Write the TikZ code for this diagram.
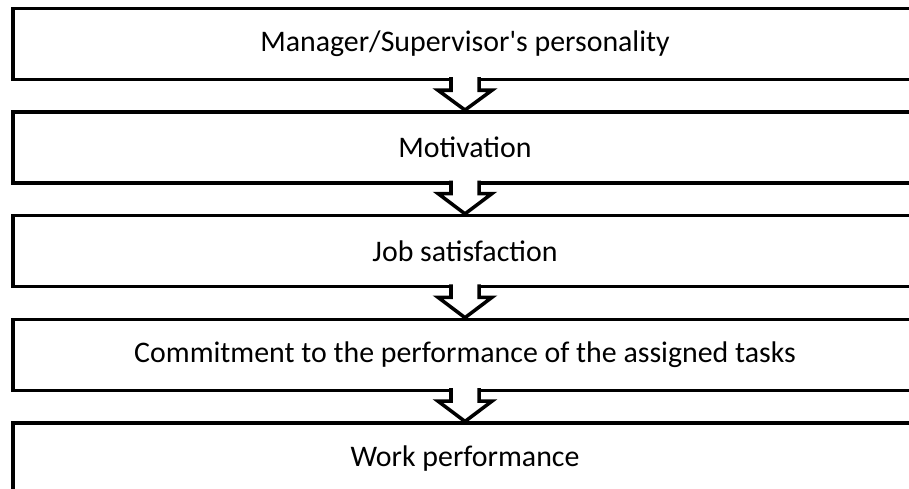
\documentclass[tikz,border=0pt]{standalone}
\usepackage{fontspec}
\setmainfont{Carlito}
\begin{document}
\begin{tikzpicture}[x=0.02cm,y=-0.02cm]
	\tikzset{stage/.style={draw,line width=2pt,minimum width=18.08cm,minimum height=1.42cm,inner sep=0pt,font=\fontsize{17}{20}\selectfont},
		link/.style={line width=2pt,fill=white,line join=miter}}
	\useasboundingbox (0,0) rectangle (909,489);
	\clip (0,0) rectangle (909,489);
	%\draw[help lines] (0,0) grid (909,489);
	\node[stage] (s1) at (465,44) {Manager/Supervisor\textquotesingle s personality};
	\node[stage] (s2) at (465,147.3) {Motivation};
	\node[stage] (s3) at (465,251.1) {Job satisfaction};
	\node[stage] (s4) at (465,354.9) {Commitment to the performance of the assigned tasks};
	\node[stage] (s5) at (465,458.7) {Work performance};
	% hollow block arrows between the stages
	\foreach \a/\b in {s1/s2,s2/s3,s3/s4,s4/s5}{
		\filldraw[link] ([shift={(-14,-4)}]\a.south) -- ([shift={(-14,9)}]\a.south)
			-- ([shift={(-27,9)}]\a.south) -- (\b.north)
			-- ([shift={(27,9)}]\a.south) -- ([shift={(14,9)}]\a.south)
			-- ([shift={(14,-4)}]\a.south);
	}
\end{tikzpicture}
\end{document}
